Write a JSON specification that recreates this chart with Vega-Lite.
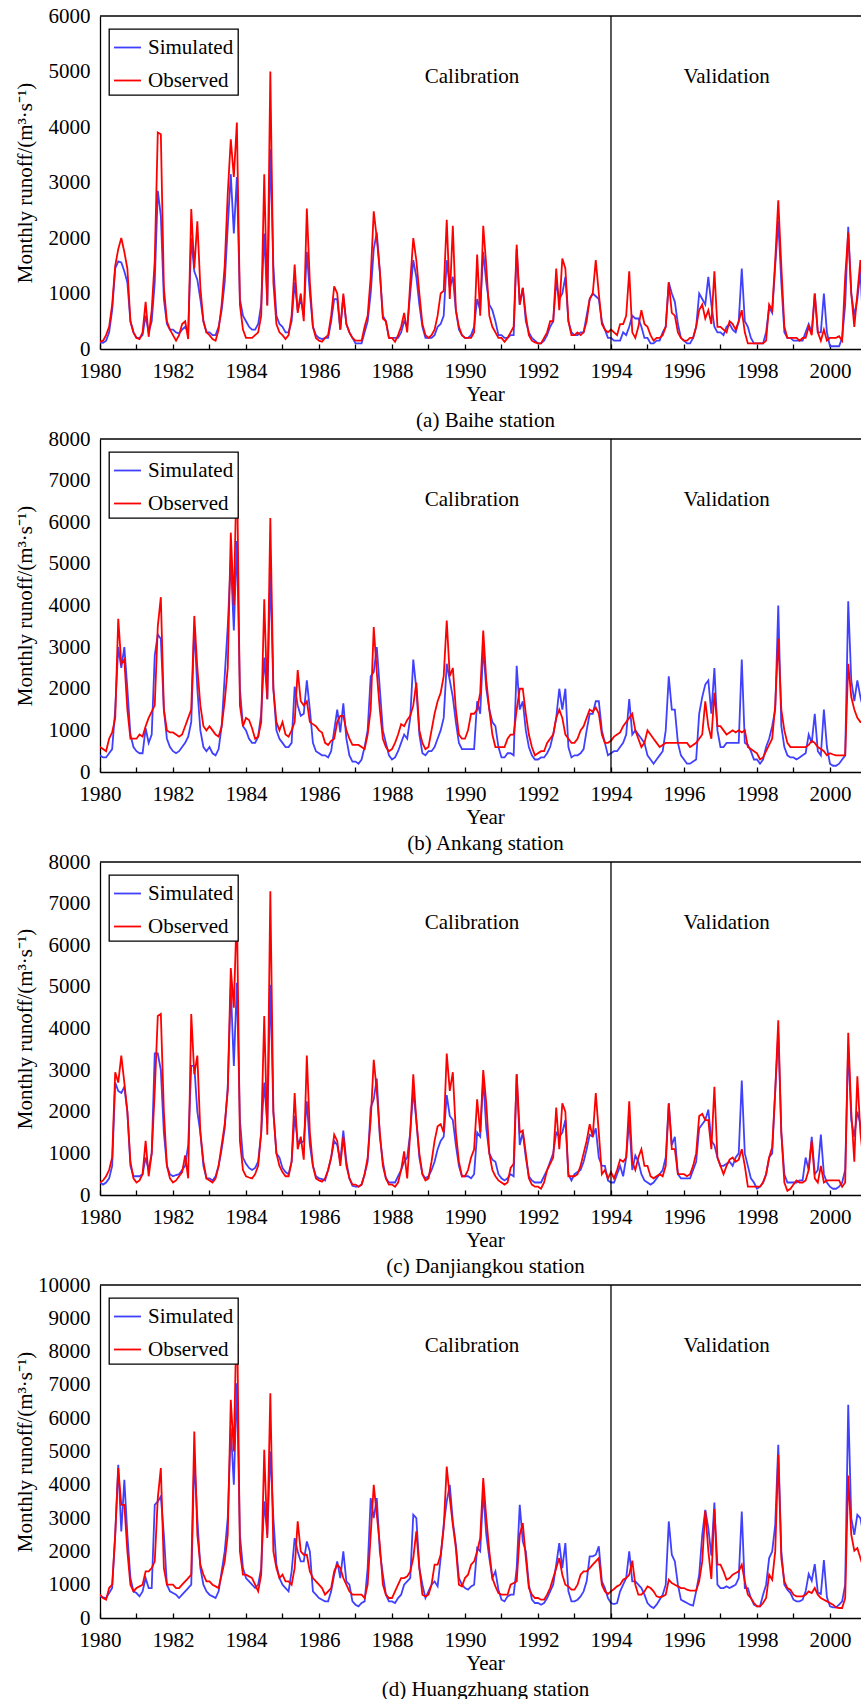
{
"$schema":"https://vega.github.io/schema/vega-lite/v6.json",
"padding":{"left":14,"top":5,"right":0,"bottom":0},
"background":"white",
"spacing":-2,
"config":{
"font":"Liberation Serif",
"view":{"stroke":null},
"axis":{"grid":false,"domainColor":"black","domainWidth":1.3,"tickColor":"black","tickWidth":1.3,"labelColor":"black","titleColor":"black","labelFontSize":21,"titleFontSize":21,"titleFontWeight":"normal","labelFont":"Liberation Serif","titleFont":"Liberation Serif"},
"legend":{"orient":"none","legendX":9,"legendY":13,"symbolType":"stroke","symbolSize":729,"symbolStrokeWidth":2,"labelFontSize":21,"labelFont":"Liberation Serif","labelColor":"black","strokeColor":"black","strokeWidth":1.3,"fillColor":"white","padding":4,"rowPadding":8,"labelOffset":6},
"line":{"strokeWidth":1.8},
"text":{"font":"Liberation Serif","fontSize":21,"color":"black"}
},
"resolve":{"scale":{"color":"independent","x":"independent","y":"independent"}},
"data":{"values":[
{"t":0,"aS":120,"aO":130,"bS":400,"bO":600,"cS":300,"cO":300,"dS":650,"dO":700},
{"t":1,"aS":110,"aO":150,"bS":350,"bO":550,"cS":250,"cO":350,"dS":620,"dO":600},
{"t":2,"aS":150,"aO":250,"bS":350,"bO":500,"cS":300,"cO":450,"dS":600,"dO":550},
{"t":3,"aS":300,"aO":400,"bS":450,"bO":800,"cS":400,"cO":600,"dS":750,"dO":900},
{"t":4,"aS":700,"aO":800,"bS":550,"bO":950,"cS":700,"cO":900,"dS":900,"dO":1000},
{"t":5,"aS":1450,"aO":1500,"bS":1500,"bO":1300,"cS":2700,"cO":2950,"dS":2500,"dO":2500},
{"t":6,"aS":1580,"aO":1800,"bS":3000,"bO":3680,"cS":2500,"cO":2700,"dS":4600,"dO":4500},
{"t":7,"aS":1560,"aO":2000,"bS":2500,"bO":2600,"cS":2450,"cO":3350,"dS":2600,"dO":3400},
{"t":8,"aS":1400,"aO":1750,"bS":3000,"bO":2700,"cS":2600,"cO":2700,"dS":4150,"dO":3400},
{"t":9,"aS":1200,"aO":1450,"bS":2000,"bO":1500,"cS":2000,"cO":2000,"dS":2500,"dO":2000},
{"t":10,"aS":500,"aO":500,"bS":900,"bO":800,"cS":700,"cO":800,"dS":1200,"dO":1000},
{"t":11,"aS":300,"aO":300,"bS":600,"bO":800,"cS":450,"cO":400,"dS":800,"dO":800},
{"t":12,"aS":200,"aO":200,"bS":500,"bO":800,"cS":450,"cO":300,"dS":750,"dO":900},
{"t":13,"aS":200,"aO":180,"bS":450,"bO":900,"cS":450,"cO":350,"dS":650,"dO":950},
{"t":14,"aS":250,"aO":300,"bS":450,"bO":850,"cS":500,"cO":500,"dS":800,"dO":1000},
{"t":15,"aS":600,"aO":850,"bS":1050,"bO":1100,"cS":900,"cO":1300,"dS":1200,"dO":1400},
{"t":16,"aS":300,"aO":220,"bS":700,"bO":1300,"cS":600,"cO":450,"dS":900,"dO":1400},
{"t":17,"aS":500,"aO":700,"bS":900,"bO":1450,"cS":1000,"cO":1000,"dS":900,"dO":1500},
{"t":18,"aS":1200,"aO":1600,"bS":2800,"bO":1600,"cS":3400,"cO":2500,"dS":3400,"dO":1700},
{"t":19,"aS":2850,"aO":3900,"bS":3300,"bO":3500,"cS":3400,"cO":4300,"dS":3500,"dO":3600},
{"t":20,"aS":2400,"aO":3870,"bS":3200,"bO":4200,"cS":3000,"cO":4350,"dS":3650,"dO":4500},
{"t":21,"aS":900,"aO":1100,"bS":1500,"bO":1500,"cS":1500,"cO":2000,"dS":2500,"dO":1500},
{"t":22,"aS":450,"aO":500,"bS":800,"bO":1000,"cS":700,"cO":700,"dS":1000,"dO":1000},
{"t":23,"aS":350,"aO":350,"bS":600,"bO":950,"cS":500,"cO":400,"dS":800,"dO":1000},
{"t":24,"aS":350,"aO":250,"bS":500,"bO":950,"cS":450,"cO":300,"dS":750,"dO":1000},
{"t":25,"aS":300,"aO":150,"bS":450,"bO":900,"cS":480,"cO":350,"dS":700,"dO":900},
{"t":26,"aS":280,"aO":250,"bS":500,"bO":850,"cS":500,"cO":450,"dS":600,"dO":900},
{"t":27,"aS":350,"aO":450,"bS":600,"bO":900,"cS":600,"cO":550,"dS":700,"dO":1000},
{"t":28,"aS":400,"aO":500,"bS":700,"bO":1100,"cS":700,"cO":950,"dS":800,"dO":1100},
{"t":29,"aS":300,"aO":180,"bS":850,"bO":1300,"cS":1200,"cO":400,"dS":900,"dO":1200},
{"t":30,"aS":2000,"aO":2520,"bS":1200,"bO":1500,"cS":3100,"cO":4350,"dS":1000,"dO":1300},
{"t":31,"aS":1400,"aO":1450,"bS":3500,"bO":3750,"cS":3100,"cO":2900,"dS":4800,"dO":5600},
{"t":32,"aS":1250,"aO":2300,"bS":2000,"bO":2500,"cS":2000,"cO":3350,"dS":3000,"dO":2500},
{"t":33,"aS":900,"aO":1100,"bS":1000,"bO":1600,"cS":1500,"cO":1500,"dS":1500,"dO":1600},
{"t":34,"aS":500,"aO":500,"bS":600,"bO":1100,"cS":700,"cO":800,"dS":1000,"dO":1300},
{"t":35,"aS":300,"aO":300,"bS":500,"bO":1000,"cS":400,"cO":400,"dS":800,"dO":1100},
{"t":36,"aS":300,"aO":250,"bS":600,"bO":1100,"cS":400,"cO":350,"dS":700,"dO":1100},
{"t":37,"aS":250,"aO":180,"bS":450,"bO":1000,"cS":350,"cO":300,"dS":650,"dO":1000},
{"t":38,"aS":250,"aO":150,"bS":400,"bO":900,"cS":450,"cO":400,"dS":600,"dO":950},
{"t":39,"aS":400,"aO":350,"bS":550,"bO":850,"cS":700,"cO":700,"dS":800,"dO":900},
{"t":40,"aS":700,"aO":800,"bS":1100,"bO":1100,"cS":1100,"cO":1200,"dS":1400,"dO":1300},
{"t":41,"aS":1200,"aO":1500,"bS":2300,"bO":1700,"cS":1600,"cO":1700,"dS":2000,"dO":1700},
{"t":42,"aS":2200,"aO":2800,"bS":3500,"bO":2500,"cS":2600,"cO":2500,"dS":3000,"dO":2500},
{"t":43,"aS":3150,"aO":3780,"bS":5100,"bO":5750,"cS":5000,"cO":5450,"dS":5700,"dO":6550},
{"t":44,"aS":2080,"aO":3100,"bS":3400,"bO":4000,"cS":3100,"cO":4500,"dS":4000,"dO":5000},
{"t":45,"aS":3100,"aO":4080,"bS":5550,"bO":7550,"cS":5100,"cO":6950,"dS":7050,"dO":9500},
{"t":46,"aS":900,"aO":800,"bS":2000,"bO":1600,"cS":1800,"cO":1300,"dS":2500,"dO":2000},
{"t":47,"aS":600,"aO":350,"bS":1100,"bO":1100,"cS":900,"cO":600,"dS":1500,"dO":1300},
{"t":48,"aS":500,"aO":200,"bS":1000,"bO":1300,"cS":750,"cO":450,"dS":1200,"dO":1300},
{"t":49,"aS":400,"aO":200,"bS":800,"bO":1250,"cS":650,"cO":420,"dS":1100,"dO":1250},
{"t":50,"aS":350,"aO":200,"bS":700,"bO":1050,"cS":600,"cO":400,"dS":1000,"dO":1200},
{"t":51,"aS":350,"aO":250,"bS":700,"bO":800,"cS":650,"cO":500,"dS":900,"dO":1000},
{"t":52,"aS":450,"aO":300,"bS":850,"bO":850,"cS":800,"cO":700,"dS":1000,"dO":800},
{"t":53,"aS":800,"aO":600,"bS":1400,"bO":1200,"cS":1500,"cO":1500,"dS":1500,"dO":1300},
{"t":54,"aS":2080,"aO":3150,"bS":2750,"bO":4150,"cS":2700,"cO":4300,"dS":3500,"dO":5050},
{"t":55,"aS":800,"aO":780,"bS":1750,"bO":1750,"cS":1700,"cO":1450,"dS":2500,"dO":2400},
{"t":56,"aS":3600,"aO":5000,"bS":4800,"bO":6100,"cS":5050,"cO":7300,"dS":5000,"dO":6750},
{"t":57,"aS":1500,"aO":1200,"bS":2000,"bO":2000,"cS":2000,"cO":2000,"dS":3000,"dO":2000},
{"t":58,"aS":600,"aO":450,"bS":1000,"bO":1200,"cS":1000,"cO":1000,"dS":1600,"dO":1500},
{"t":59,"aS":450,"aO":300,"bS":800,"bO":1000,"cS":900,"cO":700,"dS":1200,"dO":1200},
{"t":60,"aS":400,"aO":250,"bS":700,"bO":1200,"cS":650,"cO":550,"dS":1000,"dO":1300},
{"t":61,"aS":300,"aO":180,"bS":600,"bO":900,"cS":550,"cO":450,"dS":900,"dO":1100},
{"t":62,"aS":300,"aO":250,"bS":600,"bO":850,"cS":500,"cO":450,"dS":800,"dO":1100},
{"t":63,"aS":500,"aO":600,"bS":700,"bO":1000,"cS":800,"cO":800,"dS":1400,"dO":1000},
{"t":64,"aS":1200,"aO":1520,"bS":2050,"bO":1200,"cS":1900,"cO":2450,"dS":2400,"dO":1500},
{"t":65,"aS":700,"aO":650,"bS":1600,"bO":2450,"cS":1300,"cO":1100,"dS":2000,"dO":2900},
{"t":66,"aS":900,"aO":1000,"bS":1350,"bO":1700,"cS":1250,"cO":1400,"dS":1700,"dO":2000},
{"t":67,"aS":600,"aO":500,"bS":1400,"bO":1600,"cS":1300,"cO":850,"dS":1700,"dO":1900},
{"t":68,"aS":1750,"aO":2530,"bS":2200,"bO":1700,"cS":2250,"cO":3350,"dS":2300,"dO":1900},
{"t":69,"aS":1000,"aO":1200,"bS":1500,"bO":1200,"cS":1200,"cO":1500,"dS":2000,"dO":1400},
{"t":70,"aS":400,"aO":400,"bS":700,"bO":1150,"cS":700,"cO":700,"dS":800,"dO":1200},
{"t":71,"aS":250,"aO":200,"bS":500,"bO":1100,"cS":450,"cO":400,"dS":700,"dO":1100},
{"t":72,"aS":200,"aO":150,"bS":450,"bO":1000,"cS":400,"cO":350,"dS":600,"dO":1000},
{"t":73,"aS":180,"aO":130,"bS":400,"bO":950,"cS":380,"cO":320,"dS":550,"dO":900},
{"t":74,"aS":200,"aO":200,"bS":400,"bO":700,"cS":350,"cO":400,"dS":500,"dO":700},
{"t":75,"aS":200,"aO":250,"bS":350,"bO":650,"cS":600,"cO":600,"dS":500,"dO":800},
{"t":76,"aS":500,"aO":600,"bS":500,"bO":750,"cS":900,"cO":900,"dS":800,"dO":900},
{"t":77,"aS":900,"aO":1130,"bS":1000,"bO":800,"cS":1300,"cO":1450,"dS":1300,"dO":1400},
{"t":78,"aS":900,"aO":1000,"bS":1500,"bO":1200,"cS":1200,"cO":1300,"dS":1700,"dO":1600},
{"t":79,"aS":350,"aO":350,"bS":950,"bO":1350,"cS":800,"cO":700,"dS":1200,"dO":1500},
{"t":80,"aS":950,"aO":1000,"bS":1650,"bO":1350,"cS":1550,"cO":1400,"dS":2000,"dO":1200},
{"t":81,"aS":450,"aO":450,"bS":800,"bO":1000,"cS":800,"cO":700,"dS":1100,"dO":1000},
{"t":82,"aS":300,"aO":300,"bS":400,"bO":800,"cS":400,"cO":400,"dS":1000,"dO":800},
{"t":83,"aS":200,"aO":200,"bS":250,"bO":650,"cS":220,"cO":250,"dS":500,"dO":700},
{"t":84,"aS":100,"aO":150,"bS":250,"bO":650,"cS":200,"cO":250,"dS":400,"dO":700},
{"t":85,"aS":100,"aO":150,"bS":200,"bO":650,"cS":200,"cO":200,"dS":350,"dO":700},
{"t":86,"aS":100,"aO":150,"bS":300,"bO":600,"cS":250,"cO":250,"dS":450,"dO":700},
{"t":87,"aS":300,"aO":400,"bS":600,"bO":550,"cS":500,"cO":500,"dS":500,"dO":600},
{"t":88,"aS":500,"aO":600,"bS":1000,"bO":900,"cS":800,"cO":900,"dS":1500,"dO":1000},
{"t":89,"aS":1000,"aO":1300,"bS":2300,"bO":1500,"cS":2100,"cO":1800,"dS":3600,"dO":2500},
{"t":90,"aS":1800,"aO":2480,"bS":2400,"bO":3480,"cS":2300,"cO":3250,"dS":3000,"dO":4000},
{"t":91,"aS":2100,"aO":2000,"bS":3000,"bO":2400,"cS":2800,"cO":2500,"dS":3600,"dO":3100},
{"t":92,"aS":1400,"aO":1400,"bS":2000,"bO":1500,"cS":1400,"cO":1500,"dS":2000,"dO":2200},
{"t":93,"aS":600,"aO":550,"bS":1000,"bO":800,"cS":800,"cO":700,"dS":1300,"dO":1000},
{"t":94,"aS":500,"aO":500,"bS":700,"bO":600,"cS":400,"cO":400,"dS":700,"dO":700},
{"t":95,"aS":200,"aO":200,"bS":400,"bO":500,"cS":300,"cO":250,"dS":500,"dO":600},
{"t":96,"aS":200,"aO":200,"bS":300,"bO":550,"cS":300,"cO":250,"dS":500,"dO":600},
{"t":97,"aS":200,"aO":130,"bS":350,"bO":700,"cS":300,"cO":200,"dS":450,"dO":800},
{"t":98,"aS":200,"aO":250,"bS":500,"bO":900,"cS":450,"cO":300,"dS":600,"dO":1000},
{"t":99,"aS":300,"aO":400,"bS":700,"bO":1150,"cS":600,"cO":600,"dS":700,"dO":1200},
{"t":100,"aS":500,"aO":650,"bS":900,"bO":1100,"cS":800,"cO":1050,"dS":1000,"dO":1200},
{"t":101,"aS":400,"aO":300,"bS":800,"bO":1250,"cS":900,"cO":400,"dS":1100,"dO":1250},
{"t":102,"aS":1000,"aO":1200,"bS":1300,"bO":1350,"cS":1500,"cO":1500,"dS":1200,"dO":1400},
{"t":103,"aS":1600,"aO":2000,"bS":2700,"bO":1600,"cS":2500,"cO":2900,"dS":3100,"dO":1800},
{"t":104,"aS":1300,"aO":1600,"bS":2000,"bO":2150,"cS":1800,"cO":1800,"dS":3000,"dO":2600},
{"t":105,"aS":800,"aO":1000,"bS":900,"bO":1000,"cS":900,"cO":1000,"dS":1500,"dO":1500},
{"t":106,"aS":400,"aO":450,"bS":450,"bO":700,"cS":500,"cO":500,"dS":1000,"dO":700},
{"t":107,"aS":200,"aO":250,"bS":400,"bO":550,"cS":400,"cO":350,"dS":600,"dO":650},
{"t":108,"aS":200,"aO":200,"bS":500,"bO":600,"cS":450,"cO":400,"dS":800,"dO":700},
{"t":109,"aS":200,"aO":250,"bS":500,"bO":1000,"cS":600,"cO":800,"dS":1000,"dO":1000},
{"t":110,"aS":250,"aO":350,"bS":600,"bO":1400,"cS":800,"cO":1300,"dS":1100,"dO":1600},
{"t":111,"aS":400,"aO":600,"bS":800,"bO":1700,"cS":1100,"cO":1650,"dS":950,"dO":1600},
{"t":112,"aS":450,"aO":1000,"bS":1000,"bO":1900,"cS":1300,"cO":1700,"dS":1800,"dO":1900},
{"t":113,"aS":600,"aO":1050,"bS":1300,"bO":2300,"cS":1400,"cO":1500,"dS":2800,"dO":2700},
{"t":114,"aS":1600,"aO":2330,"bS":2600,"bO":3640,"cS":2400,"cO":3400,"dS":3500,"dO":4550},
{"t":115,"aS":1100,"aO":900,"bS":2200,"bO":2300,"cS":1900,"cO":2500,"dS":4000,"dO":3600},
{"t":116,"aS":1300,"aO":2220,"bS":1800,"bO":2500,"cS":1800,"cO":2950,"dS":2900,"dO":2800},
{"t":117,"aS":700,"aO":700,"bS":1200,"bO":1500,"cS":1200,"cO":1500,"dS":2200,"dO":2100},
{"t":118,"aS":350,"aO":400,"bS":700,"bO":900,"cS":700,"cO":800,"dS":1200,"dO":1000},
{"t":119,"aS":250,"aO":250,"bS":550,"bO":800,"cS":450,"cO":450,"dS":1000,"dO":950},
{"t":120,"aS":200,"aO":200,"bS":550,"bO":800,"cS":450,"cO":450,"dS":900,"dO":1200},
{"t":121,"aS":200,"aO":200,"bS":550,"bO":1000,"cS":450,"cO":600,"dS":850,"dO":1300},
{"t":122,"aS":250,"aO":200,"bS":550,"bO":1400,"cS":400,"cO":900,"dS":950,"dO":1600},
{"t":123,"aS":400,"aO":300,"bS":550,"bO":1400,"cS":500,"cO":1100,"dS":1000,"dO":1700},
{"t":124,"aS":900,"aO":1700,"bS":1700,"bO":1500,"cS":1500,"cO":2300,"dS":2100,"dO":2000},
{"t":125,"aS":700,"aO":600,"bS":1400,"bO":1900,"cS":1400,"cO":1500,"dS":2000,"dO":2400},
{"t":126,"aS":1750,"aO":2220,"bS":3000,"bO":3400,"cS":2800,"cO":3000,"dS":3800,"dO":4200},
{"t":127,"aS":1200,"aO":1500,"bS":2000,"bO":2200,"cS":1600,"cO":2200,"dS":2500,"dO":3000},
{"t":128,"aS":800,"aO":600,"bS":1500,"bO":1500,"cS":1000,"cO":1000,"dS":1800,"dO":2000},
{"t":129,"aS":700,"aO":400,"bS":1200,"bO":900,"cS":850,"cO":600,"dS":1200,"dO":1200},
{"t":130,"aS":500,"aO":300,"bS":1100,"bO":600,"cS":800,"cO":450,"dS":1400,"dO":950},
{"t":131,"aS":250,"aO":200,"bS":600,"bO":600,"cS":500,"cO":350,"dS":850,"dO":750},
{"t":132,"aS":250,"aO":200,"bS":350,"bO":600,"cS":400,"cO":300,"dS":550,"dO":700},
{"t":133,"aS":200,"aO":130,"bS":350,"bO":600,"cS":350,"cO":250,"dS":500,"dO":700},
{"t":134,"aS":200,"aO":200,"bS":450,"bO":800,"cS":400,"cO":300,"dS":650,"dO":700},
{"t":135,"aS":250,"aO":300,"bS":450,"bO":900,"cS":500,"cO":650,"dS":700,"dO":1000},
{"t":136,"aS":250,"aO":400,"bS":400,"bO":900,"cS":450,"cO":750,"dS":700,"dO":1050},
{"t":137,"aS":1800,"aO":1880,"bS":2550,"bO":1500,"cS":2900,"cO":2900,"dS":1500,"dO":1100},
{"t":138,"aS":800,"aO":800,"bS":1500,"bO":2000,"cS":1200,"cO":1500,"dS":3400,"dO":2500},
{"t":139,"aS":1100,"aO":1100,"bS":1700,"bO":2000,"cS":1500,"cO":1550,"dS":2300,"dO":2850},
{"t":140,"aS":500,"aO":600,"bS":1000,"bO":1400,"cS":900,"cO":1000,"dS":2000,"dO":1800},
{"t":141,"aS":300,"aO":250,"bS":600,"bO":900,"cS":450,"cO":400,"dS":1000,"dO":900},
{"t":142,"aS":200,"aO":150,"bS":400,"bO":600,"cS":350,"cO":250,"dS":550,"dO":700},
{"t":143,"aS":150,"aO":120,"bS":300,"bO":400,"cS":300,"cO":200,"dS":450,"dO":600},
{"t":144,"aS":100,"aO":100,"bS":300,"bO":450,"cS":300,"cO":200,"dS":450,"dO":600},
{"t":145,"aS":100,"aO":100,"bS":350,"bO":500,"cS":300,"cO":150,"dS":400,"dO":550},
{"t":146,"aS":150,"aO":200,"bS":350,"bO":500,"cS":450,"cO":300,"dS":450,"dO":550},
{"t":147,"aS":250,"aO":300,"bS":450,"bO":700,"cS":600,"cO":600,"dS":600,"dO":700},
{"t":148,"aS":400,"aO":500,"bS":600,"bO":800,"cS":800,"cO":750,"dS":800,"dO":900},
{"t":149,"aS":500,"aO":500,"bS":900,"bO":900,"cS":1000,"cO":900,"dS":1000,"dO":1200},
{"t":150,"aS":1200,"aO":1450,"bS":1300,"bO":1300,"cS":1500,"cO":2100,"dS":1600,"dO":1500},
{"t":151,"aS":900,"aO":700,"bS":2000,"bO":1500,"cS":1400,"cO":1100,"dS":2250,"dO":1800},
{"t":152,"aS":1000,"aO":1630,"bS":1500,"bO":1300,"cS":1500,"cO":2200,"dS":1500,"dO":1300},
{"t":153,"aS":1300,"aO":1450,"bS":2000,"bO":900,"cS":1800,"cO":2000,"dS":2250,"dO":1000},
{"t":154,"aS":500,"aO":500,"bS":600,"bO":800,"cS":500,"cO":450,"dS":800,"dO":950},
{"t":155,"aS":300,"aO":250,"bS":350,"bO":700,"cS":350,"cO":450,"dS":500,"dO":850},
{"t":156,"aS":250,"aO":250,"bS":400,"bO":700,"cS":500,"cO":450,"dS":500,"dO":850},
{"t":157,"aS":250,"aO":300,"bS":400,"bO":800,"cS":550,"cO":500,"dS":550,"dO":1000},
{"t":158,"aS":300,"aO":250,"bS":450,"bO":1000,"cS":600,"cO":700,"dS":650,"dO":1300},
{"t":159,"aS":300,"aO":300,"bS":550,"bO":1100,"cS":800,"cO":1000,"dS":800,"dO":1400},
{"t":160,"aS":600,"aO":500,"bS":1000,"bO":1300,"cS":1100,"cO":1300,"dS":1100,"dO":1400},
{"t":161,"aS":900,"aO":900,"bS":1400,"bO":1500,"cS":1450,"cO":1700,"dS":1850,"dO":1500},
{"t":162,"aS":1000,"aO":1000,"bS":1400,"bO":1450,"cS":1400,"cO":1400,"dS":1850,"dO":1600},
{"t":163,"aS":950,"aO":1600,"bS":1700,"bO":1550,"cS":1600,"cO":2450,"dS":1900,"dO":1700},
{"t":164,"aS":900,"aO":1000,"bS":1700,"bO":1400,"cS":900,"cO":1500,"dS":2150,"dO":1800},
{"t":165,"aS":500,"aO":450,"bS":1000,"bO":900,"cS":700,"cO":500,"dS":1100,"dO":1000},
{"t":166,"aS":350,"aO":350,"bS":700,"bO":700,"cS":700,"cO":600,"dS":900,"dO":800},
{"t":167,"aS":200,"aO":300,"bS":400,"bO":700,"cS":350,"cO":400,"dS":600,"dO":720},
{"t":168,"aS":200,"aO":350,"bS":450,"bO":750,"cS":300,"cO":550,"dS":450,"dO":800},
{"t":169,"aS":150,"aO":300,"bS":500,"bO":850,"cS":300,"cO":400,"dS":420,"dO":870},
{"t":170,"aS":150,"aO":250,"bS":500,"bO":900,"cS":500,"cO":600,"dS":450,"dO":950},
{"t":171,"aS":150,"aO":450,"bS":600,"bO":950,"cS":700,"cO":850,"dS":800,"dO":1000},
{"t":172,"aS":300,"aO":450,"bS":700,"bO":1100,"cS":450,"cO":800,"dS":1000,"dO":1150},
{"t":173,"aS":250,"aO":600,"bS":900,"bO":1200,"cS":900,"cO":900,"dS":1200,"dO":1200},
{"t":174,"aS":400,"aO":1400,"bS":1750,"bO":1300,"cS":1800,"cO":2250,"dS":2000,"dO":1300},
{"t":175,"aS":600,"aO":300,"bS":900,"bO":1400,"cS":600,"cO":800,"dS":1100,"dO":1720},
{"t":176,"aS":550,"aO":200,"bS":1000,"bO":1000,"cS":950,"cO":600,"dS":1100,"dO":1000},
{"t":177,"aS":550,"aO":400,"bS":900,"bO":800,"cS":800,"cO":900,"dS":1000,"dO":700},
{"t":178,"aS":400,"aO":700,"bS":800,"bO":600,"cS":500,"cO":1100,"dS":900,"dO":700},
{"t":179,"aS":200,"aO":450,"bS":700,"bO":700,"cS":350,"cO":700,"dS":700,"dO":800},
{"t":180,"aS":200,"aO":400,"bS":400,"bO":1000,"cS":300,"cO":700,"dS":450,"dO":950},
{"t":181,"aS":100,"aO":250,"bS":300,"bO":900,"cS":250,"cO":450,"dS":350,"dO":900},
{"t":182,"aS":100,"aO":150,"bS":200,"bO":800,"cS":300,"cO":400,"dS":300,"dO":800},
{"t":183,"aS":150,"aO":200,"bS":300,"bO":700,"cS":400,"cO":450,"dS":400,"dO":650},
{"t":184,"aS":150,"aO":200,"bS":400,"bO":600,"cS":500,"cO":500,"dS":550,"dO":620},
{"t":185,"aS":300,"aO":250,"bS":500,"bO":650,"cS":600,"cO":450,"dS":700,"dO":650},
{"t":186,"aS":400,"aO":400,"bS":1000,"bO":700,"cS":900,"cO":700,"dS":1000,"dO":700},
{"t":187,"aS":1200,"aO":1200,"bS":2300,"bO":700,"cS":2200,"cO":2200,"dS":2900,"dO":1150},
{"t":188,"aS":1000,"aO":650,"bS":1500,"bO":700,"cS":1200,"cO":1100,"dS":1900,"dO":1050},
{"t":189,"aS":850,"aO":600,"bS":1500,"bO":700,"cS":1400,"cO":1100,"dS":1700,"dO":1000},
{"t":190,"aS":450,"aO":300,"bS":700,"bO":700,"cS":500,"cO":500,"dS":1000,"dO":950},
{"t":191,"aS":200,"aO":200,"bS":400,"bO":700,"cS":400,"cO":500,"dS":550,"dO":900},
{"t":192,"aS":150,"aO":150,"bS":300,"bO":700,"cS":400,"cO":500,"dS":500,"dO":900},
{"t":193,"aS":100,"aO":150,"bS":200,"bO":700,"cS":400,"cO":450,"dS":450,"dO":850},
{"t":194,"aS":100,"aO":200,"bS":200,"bO":600,"cS":400,"cO":500,"dS":400,"dO":820},
{"t":195,"aS":200,"aO":200,"bS":250,"bO":650,"cS":600,"cO":700,"dS":370,"dO":820},
{"t":196,"aS":400,"aO":400,"bS":300,"bO":700,"cS":800,"cO":1000,"dS":800,"dO":820},
{"t":197,"aS":1000,"aO":700,"bS":1400,"bO":800,"cS":1600,"cO":1900,"dS":1300,"dO":1100},
{"t":198,"aS":900,"aO":800,"bS":1800,"bO":900,"cS":1700,"cO":1950,"dS":2500,"dO":1700},
{"t":199,"aS":800,"aO":550,"bS":2100,"bO":1700,"cS":1800,"cO":1800,"dS":3250,"dO":3220},
{"t":200,"aS":1300,"aO":700,"bS":2200,"bO":1100,"cS":2050,"cO":1800,"dS":2700,"dO":2020},
{"t":201,"aS":800,"aO":450,"bS":1400,"bO":800,"cS":1300,"cO":1100,"dS":1870,"dO":1170},
{"t":202,"aS":400,"aO":1400,"bS":2500,"bO":1900,"cS":1200,"cO":2600,"dS":3470,"dO":3270},
{"t":203,"aS":300,"aO":400,"bS":1000,"bO":1100,"cS":900,"cO":900,"dS":1000,"dO":1600},
{"t":204,"aS":300,"aO":400,"bS":600,"bO":1100,"cS":700,"cO":700,"dS":900,"dO":1600},
{"t":205,"aS":250,"aO":350,"bS":600,"bO":1000,"cS":700,"cO":500,"dS":900,"dO":1400},
{"t":206,"aS":400,"aO":300,"bS":700,"bO":900,"cS":750,"cO":700,"dS":950,"dO":1150},
{"t":207,"aS":450,"aO":500,"bS":700,"bO":950,"cS":800,"cO":850,"dS":900,"dO":1200},
{"t":208,"aS":350,"aO":450,"bS":700,"bO":1000,"cS":700,"cO":900,"dS":950,"dO":1300},
{"t":209,"aS":300,"aO":350,"bS":700,"bO":950,"cS":900,"cO":800,"dS":1000,"dO":1350},
{"t":210,"aS":500,"aO":500,"bS":700,"bO":1000,"cS":1000,"cO":850,"dS":1200,"dO":1400},
{"t":211,"aS":1450,"aO":700,"bS":2700,"bO":950,"cS":2750,"cO":1100,"dS":3200,"dO":1600},
{"t":212,"aS":500,"aO":300,"bS":700,"bO":1000,"cS":1000,"cO":700,"dS":900,"dO":1100},
{"t":213,"aS":400,"aO":100,"bS":650,"bO":600,"cS":700,"cO":200,"dS":900,"dO":700},
{"t":214,"aS":200,"aO":100,"bS":500,"bO":550,"cS":400,"cO":200,"dS":600,"dO":600},
{"t":215,"aS":100,"aO":100,"bS":300,"bO":500,"cS":300,"cO":200,"dS":400,"dO":450},
{"t":216,"aS":100,"aO":100,"bS":300,"bO":450,"cS":150,"cO":200,"dS":350,"dO":350},
{"t":217,"aS":100,"aO":100,"bS":200,"bO":300,"cS":200,"cO":200,"dS":350,"dO":350},
{"t":218,"aS":100,"aO":100,"bS":300,"bO":350,"cS":300,"cO":300,"dS":700,"dO":450},
{"t":219,"aS":300,"aO":150,"bS":600,"bO":500,"cS":500,"cO":500,"dS":1000,"dO":600},
{"t":220,"aS":750,"aO":800,"bS":800,"bO":650,"cS":900,"cO":900,"dS":1800,"dO":1300},
{"t":221,"aS":650,"aO":700,"bS":1100,"bO":800,"cS":1000,"cO":1150,"dS":2000,"dO":1150},
{"t":222,"aS":1500,"aO":1600,"bS":1500,"bO":1600,"cS":2500,"cO":2500,"dS":2800,"dO":2000},
{"t":223,"aS":2300,"aO":2680,"bS":4000,"bO":3200,"cS":3900,"cO":4200,"dS":5200,"dO":4900},
{"t":224,"aS":1200,"aO":1500,"bS":1100,"bO":1500,"cS":1500,"cO":1500,"dS":2000,"dO":1800},
{"t":225,"aS":300,"aO":400,"bS":600,"bO":1000,"cS":500,"cO":300,"dS":1000,"dO":1100},
{"t":226,"aS":200,"aO":200,"bS":400,"bO":700,"cS":300,"cO":100,"dS":850,"dO":900},
{"t":227,"aS":200,"aO":200,"bS":350,"bO":600,"cS":300,"cO":150,"dS":750,"dO":850},
{"t":228,"aS":150,"aO":200,"bS":350,"bO":600,"cS":300,"cO":250,"dS":550,"dO":700},
{"t":229,"aS":150,"aO":200,"bS":300,"bO":600,"cS":300,"cO":350,"dS":500,"dO":650},
{"t":230,"aS":150,"aO":150,"bS":350,"bO":600,"cS":350,"cO":300,"dS":500,"dO":650},
{"t":231,"aS":150,"aO":200,"bS":400,"bO":600,"cS":350,"cO":300,"dS":550,"dO":650},
{"t":232,"aS":300,"aO":200,"bS":450,"bO":600,"cS":900,"cO":350,"dS":800,"dO":700},
{"t":233,"aS":450,"aO":400,"bS":900,"bO":650,"cS":600,"cO":600,"dS":1320,"dO":800},
{"t":234,"aS":300,"aO":250,"bS":700,"bO":750,"cS":1400,"cO":1300,"dS":1120,"dO":750},
{"t":235,"aS":1000,"aO":1000,"bS":1400,"bO":700,"cS":500,"cO":400,"dS":1620,"dO":900},
{"t":236,"aS":300,"aO":300,"bS":500,"bO":600,"cS":600,"cO":300,"dS":770,"dO":700},
{"t":237,"aS":300,"aO":150,"bS":400,"bO":550,"cS":1450,"cO":700,"dS":720,"dO":600},
{"t":238,"aS":1000,"aO":350,"bS":1500,"bO":500,"cS":500,"cO":300,"dS":1740,"dO":550},
{"t":239,"aS":300,"aO":150,"bS":600,"bO":400,"cS":300,"cO":350,"dS":620,"dO":500},
{"t":240,"aS":50,"aO":200,"bS":200,"bO":450,"cS":200,"cO":350,"dS":350,"dO":450},
{"t":241,"aS":50,"aO":200,"bS":150,"bO":420,"cS":150,"cO":350,"dS":320,"dO":400},
{"t":242,"aS":50,"aO":200,"bS":150,"bO":400,"cS":150,"cO":350,"dS":320,"dO":320},
{"t":243,"aS":50,"aO":230,"bS":200,"bO":400,"cS":200,"cO":350,"dS":400,"dO":300},
{"t":244,"aS":200,"aO":150,"bS":300,"bO":400,"cS":300,"cO":200,"dS":500,"dO":300},
{"t":245,"aS":800,"aO":1300,"bS":400,"bO":400,"cS":600,"cO":300,"dS":1000,"dO":600},
{"t":246,"aS":2200,"aO":2100,"bS":4100,"bO":2600,"cS":3600,"cO":3900,"dS":6400,"dO":4280},
{"t":247,"aS":1000,"aO":1000,"bS":2200,"bO":1800,"cS":1800,"cO":2000,"dS":3000,"dO":2500},
{"t":248,"aS":600,"aO":400,"bS":1700,"bO":1500,"cS":1400,"cO":800,"dS":2500,"dO":2020},
{"t":249,"aS":900,"aO":1000,"bS":2200,"bO":1300,"cS":2000,"cO":2850,"dS":3100,"dO":2100},
{"t":250,"aS":1400,"aO":1600,"bS":1800,"bO":1200,"cS":1700,"cO":1500,"dS":3000,"dO":1800},
{"t":251,"aS":300,"aO":1000,"bS":1500,"bO":1200,"cS":1000,"cO":800,"dS":2500,"dO":1500}
]},
"vconcat":[
{"width":761,"height":333,"layer":[
{"mark":{"type":"line","clip":true,"strokeWidth":1.8},"encoding":{
"x":{"field":"t","type":"quantitative","scale":{"domain":[0,250.2],"nice":false,"zero":false},"axis":{"values":[0,12,24,36,48,60,72,84,96,108,120,132,144,156,168,180,192,204,216,228,240],"tickCount":50,"labelExpr":"datum.value % 24 == 0 ? '' + (1980 + datum.value / 12) : ''","tickSize":-5,"labelPadding":16,"labelFlush":false,"labelOverlap":false,"labelFont":"Liberation Serif","titleFont":"Liberation Serif","title":["Year","(a) Baihe station"],"titleX":385,"titleY":51,"titleBaseline":"alphabetic","titleLineHeight":26}},
"y":{"field":"aS","type":"quantitative","scale":{"domain":[0,6000],"nice":false},"axis":{"values":[0,1000,2000,3000,4000,5000,6000],"tickCount":50,"format":"d","ticks":false,"labelPadding":10,"labelOverlap":false,"labelFont":"Liberation Serif","titleFont":"Liberation Serif","title":"Monthly runoff/(m³·s⁻¹)","titleX":-75,"titleY":166.5,"titleBaseline":"middle","titleAlign":"center"}},
"color":{"datum":"Simulated","type":"nominal","scale":{"domain":["Simulated","Observed"],"range":["#4040ff","#ff0000"]},"legend":{"title":null,"orient":"none","legendX":9,"legendY":13,"strokeColor":"black","fillColor":"white","padding":4}}}},
{"mark":{"type":"line","clip":true,"strokeWidth":1.8},"encoding":{"x":{"field":"t","type":"quantitative"},"y":{"field":"aO","type":"quantitative"},"color":{"datum":"Observed","type":"nominal"}}},
{"data":{"values":[{}]},"mark":{"type":"rule","color":"black","strokeWidth":1.3},"encoding":{"x":{"datum":168,"type":"quantitative"}}},
{"data":{"values":[{}]},"mark":{"type":"rule","color":"black","strokeWidth":1.3},"encoding":{"y":{"datum":6000,"type":"quantitative"}}},
{"data":{"values":[{}]},"mark":{"type":"text","text":"Calibration","fontSize":21,"baseline":"middle"},"encoding":{"x":{"datum":122.3,"type":"quantitative"},"y":{"datum":4900,"type":"quantitative"}}},
{"data":{"values":[{}]},"mark":{"type":"text","text":"Validation","fontSize":21,"baseline":"middle"},"encoding":{"x":{"datum":206,"type":"quantitative"},"y":{"datum":4900,"type":"quantitative"}}}
]},
{"width":761,"height":333,"layer":[
{"mark":{"type":"line","clip":true,"strokeWidth":1.8},"encoding":{
"x":{"field":"t","type":"quantitative","scale":{"domain":[0,250.2],"nice":false,"zero":false},"axis":{"values":[0,12,24,36,48,60,72,84,96,108,120,132,144,156,168,180,192,204,216,228,240],"tickCount":50,"labelExpr":"datum.value % 24 == 0 ? '' + (1980 + datum.value / 12) : ''","tickSize":-5,"labelPadding":16,"labelFlush":false,"labelOverlap":false,"labelFont":"Liberation Serif","titleFont":"Liberation Serif","title":["Year","(b) Ankang station"],"titleX":385,"titleY":51,"titleBaseline":"alphabetic","titleLineHeight":26}},
"y":{"field":"bS","type":"quantitative","scale":{"domain":[0,8000],"nice":false},"axis":{"values":[0,1000,2000,3000,4000,5000,6000,7000,8000],"tickCount":50,"format":"d","ticks":false,"labelPadding":10,"labelOverlap":false,"labelFont":"Liberation Serif","titleFont":"Liberation Serif","title":"Monthly runoff/(m³·s⁻¹)","titleX":-75,"titleY":166.5,"titleBaseline":"middle","titleAlign":"center"}},
"color":{"datum":"Simulated","type":"nominal","scale":{"domain":["Simulated","Observed"],"range":["#4040ff","#ff0000"]},"legend":{"title":null,"orient":"none","legendX":9,"legendY":13,"strokeColor":"black","fillColor":"white","padding":4}}}},
{"mark":{"type":"line","clip":true,"strokeWidth":1.8},"encoding":{"x":{"field":"t","type":"quantitative"},"y":{"field":"bO","type":"quantitative"},"color":{"datum":"Observed","type":"nominal"}}},
{"data":{"values":[{}]},"mark":{"type":"rule","color":"black","strokeWidth":1.3},"encoding":{"x":{"datum":168,"type":"quantitative"}}},
{"data":{"values":[{}]},"mark":{"type":"rule","color":"black","strokeWidth":1.3},"encoding":{"y":{"datum":8000,"type":"quantitative"}}},
{"data":{"values":[{}]},"mark":{"type":"text","text":"Calibration","fontSize":21,"baseline":"middle"},"encoding":{"x":{"datum":122.3,"type":"quantitative"},"y":{"datum":6535,"type":"quantitative"}}},
{"data":{"values":[{}]},"mark":{"type":"text","text":"Validation","fontSize":21,"baseline":"middle"},"encoding":{"x":{"datum":206,"type":"quantitative"},"y":{"datum":6535,"type":"quantitative"}}}
]},
{"width":761,"height":333,"layer":[
{"mark":{"type":"line","clip":true,"strokeWidth":1.8},"encoding":{
"x":{"field":"t","type":"quantitative","scale":{"domain":[0,250.2],"nice":false,"zero":false},"axis":{"values":[0,12,24,36,48,60,72,84,96,108,120,132,144,156,168,180,192,204,216,228,240],"tickCount":50,"labelExpr":"datum.value % 24 == 0 ? '' + (1980 + datum.value / 12) : ''","tickSize":-5,"labelPadding":16,"labelFlush":false,"labelOverlap":false,"labelFont":"Liberation Serif","titleFont":"Liberation Serif","title":["Year","(c) Danjiangkou station"],"titleX":385,"titleY":51,"titleBaseline":"alphabetic","titleLineHeight":26}},
"y":{"field":"cS","type":"quantitative","scale":{"domain":[0,8000],"nice":false},"axis":{"values":[0,1000,2000,3000,4000,5000,6000,7000,8000],"tickCount":50,"format":"d","ticks":false,"labelPadding":10,"labelOverlap":false,"labelFont":"Liberation Serif","titleFont":"Liberation Serif","title":"Monthly runoff/(m³·s⁻¹)","titleX":-75,"titleY":166.5,"titleBaseline":"middle","titleAlign":"center"}},
"color":{"datum":"Simulated","type":"nominal","scale":{"domain":["Simulated","Observed"],"range":["#4040ff","#ff0000"]},"legend":{"title":null,"orient":"none","legendX":9,"legendY":13,"strokeColor":"black","fillColor":"white","padding":4}}}},
{"mark":{"type":"line","clip":true,"strokeWidth":1.8},"encoding":{"x":{"field":"t","type":"quantitative"},"y":{"field":"cO","type":"quantitative"},"color":{"datum":"Observed","type":"nominal"}}},
{"data":{"values":[{}]},"mark":{"type":"rule","color":"black","strokeWidth":1.3},"encoding":{"x":{"datum":168,"type":"quantitative"}}},
{"data":{"values":[{}]},"mark":{"type":"rule","color":"black","strokeWidth":1.3},"encoding":{"y":{"datum":8000,"type":"quantitative"}}},
{"data":{"values":[{}]},"mark":{"type":"text","text":"Calibration","fontSize":21,"baseline":"middle"},"encoding":{"x":{"datum":122.3,"type":"quantitative"},"y":{"datum":6535,"type":"quantitative"}}},
{"data":{"values":[{}]},"mark":{"type":"text","text":"Validation","fontSize":21,"baseline":"middle"},"encoding":{"x":{"datum":206,"type":"quantitative"},"y":{"datum":6535,"type":"quantitative"}}}
]},
{"width":761,"height":333,"layer":[
{"mark":{"type":"line","clip":true,"strokeWidth":1.8},"encoding":{
"x":{"field":"t","type":"quantitative","scale":{"domain":[0,250.2],"nice":false,"zero":false},"axis":{"values":[0,12,24,36,48,60,72,84,96,108,120,132,144,156,168,180,192,204,216,228,240],"tickCount":50,"labelExpr":"datum.value % 24 == 0 ? '' + (1980 + datum.value / 12) : ''","tickSize":-5,"labelPadding":16,"labelFlush":false,"labelOverlap":false,"labelFont":"Liberation Serif","titleFont":"Liberation Serif","title":["Year","(d) Huangzhuang station"],"titleX":385,"titleY":51,"titleBaseline":"alphabetic","titleLineHeight":26}},
"y":{"field":"dS","type":"quantitative","scale":{"domain":[0,10000],"nice":false},"axis":{"values":[0,1000,2000,3000,4000,5000,6000,7000,8000,9000,10000],"tickCount":50,"format":"d","ticks":false,"labelPadding":10,"labelOverlap":false,"labelFont":"Liberation Serif","titleFont":"Liberation Serif","title":"Monthly runoff/(m³·s⁻¹)","titleX":-75,"titleY":166.5,"titleBaseline":"middle","titleAlign":"center"}},
"color":{"datum":"Simulated","type":"nominal","scale":{"domain":["Simulated","Observed"],"range":["#4040ff","#ff0000"]},"legend":{"title":null,"orient":"none","legendX":9,"legendY":13,"strokeColor":"black","fillColor":"white","padding":4}}}},
{"mark":{"type":"line","clip":true,"strokeWidth":1.8},"encoding":{"x":{"field":"t","type":"quantitative"},"y":{"field":"dO","type":"quantitative"},"color":{"datum":"Observed","type":"nominal"}}},
{"data":{"values":[{}]},"mark":{"type":"rule","color":"black","strokeWidth":1.3},"encoding":{"x":{"datum":168,"type":"quantitative"}}},
{"data":{"values":[{}]},"mark":{"type":"rule","color":"black","strokeWidth":1.3},"encoding":{"y":{"datum":10000,"type":"quantitative"}}},
{"data":{"values":[{}]},"mark":{"type":"text","text":"Calibration","fontSize":21,"baseline":"middle"},"encoding":{"x":{"datum":122.3,"type":"quantitative"},"y":{"datum":8170,"type":"quantitative"}}},
{"data":{"values":[{}]},"mark":{"type":"text","text":"Validation","fontSize":21,"baseline":"middle"},"encoding":{"x":{"datum":206,"type":"quantitative"},"y":{"datum":8170,"type":"quantitative"}}}
]}
]
}
